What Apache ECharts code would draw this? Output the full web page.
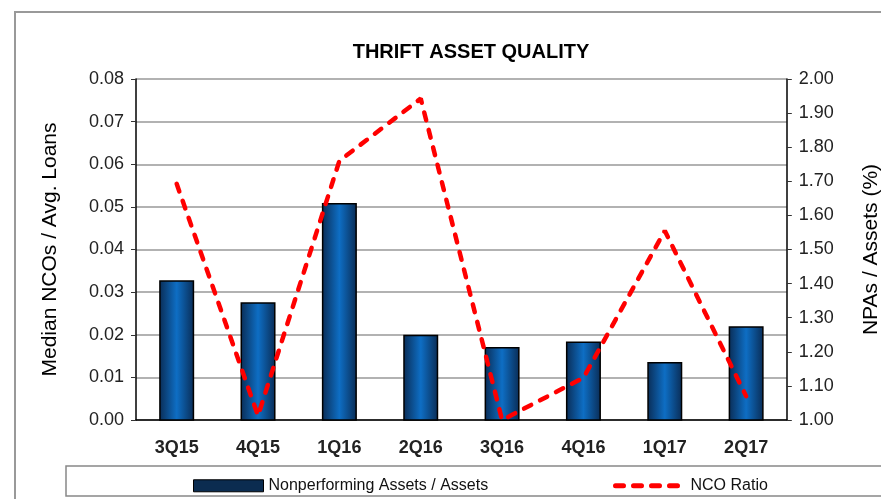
<script src="https://cdn.jsdelivr.net/npm/echarts@6/dist/echarts.min.js"></script>

<div id="chart" style="width: 889px; height: 499px;"></div>

<script>
  const quarters = ['3Q15', '4Q15', '1Q16', '2Q16', '3Q16', '4Q16', '1Q17', '2Q17'];
  // NPAs / Assets (%), right axis
  const npaValues = [1.41, 1.345, 1.636, 1.25, 1.214, 1.23, 1.17, 1.275];
  // median NCOs / avg. loans, left axis
  const ncoValues = [0.0554, 0.001, 0.0608, 0.0754, 0.0, 0.0099, 0.0444, 0.0056];

  const font = 'Liberation Sans, Arial, sans-serif';
  const chartDom = document.getElementById('chart');
  const myChart = echarts.init(chartDom, null, { renderer: 'canvas' });

  const barFill = new echarts.graphic.LinearGradient(0, 0, 1, 0, [
    { offset: 0, color: '#0a2c55' },
    { offset: 0.5, color: '#0e6ec4' },
    { offset: 1, color: '#0a2c55' }
  ]);
  const ncoDash = { color: '#ff0000', width: 4.5, type: [8, 10], cap: 'round' };

  const option = {
    backgroundColor: '#fff',
    animation: false,
    title: {
      text: 'THRIFT ASSET QUALITY',
      left: 458,
      top: 22,
      textAlign: 'center',
      textStyle: { fontFamily: font, fontSize: 20, fontWeight: 'bold', color: '#000' }
    },
    grid: { left: 128, right: 89, top: 71, bottom: 87 },
    legend: [
      {
        left: 185,
        top: 464,
        padding: 0,
        itemWidth: 70,
        itemHeight: 12,
        itemGap: 6,
        data: [{
          name: 'Nonperforming Assets / Assets',
          icon: 'rect',
          itemStyle: { color: '#0b2c50', borderColor: '#000', borderWidth: 1 }
        }],
        textStyle: { fontFamily: font, fontSize: 16, color: '#111' }
      },
      {
        left: 605,
        top: 464,
        padding: 0,
        itemWidth: 70,
        itemHeight: 12,
        data: [{ name: 'NCO Ratio', itemStyle: { opacity: 0 } }],
        lineStyle: { color: '#ff0000', width: 5, type: [8, 10], cap: 'round' },
        textStyle: { fontFamily: font, fontSize: 16, color: '#111' }
      }
    ],
    xAxis: {
      type: 'category',
      data: quarters,
      axisLine: { lineStyle: { color: '#000', width: 1.5 } },
      axisTick: { length: 5, lineStyle: { color: '#333' } },
      axisLabel: { fontFamily: font, fontSize: 18, fontWeight: 'bold', color: '#222', margin: 13 }
    },
    yAxis: [
      {
        type: 'value',
        min: 0,
        max: 0.08,
        interval: 0.01,
        name: 'Median NCOs / Avg. Loans',
        nameLocation: 'middle',
        nameGap: 68,
        nameTextStyle: { fontFamily: font, fontSize: 21, color: '#000' },
        axisLine: { show: true, lineStyle: { color: '#000', width: 1.5 } },
        axisTick: { show: true, length: 5, lineStyle: { color: '#333' } },
        axisLabel: { fontFamily: font, fontSize: 18, color: '#222', margin: 12, formatter: v => v.toFixed(2) },
        splitLine: { lineStyle: { color: '#999', width: 1.5 } }
      },
      {
        type: 'value',
        min: 1,
        max: 2,
        interval: 0.1,
        name: 'NPAs / Assets (%)',
        nameLocation: 'middle',
        nameGap: 66,
        nameRotate: 90,
        nameTextStyle: { fontFamily: font, fontSize: 21, color: '#000' },
        axisLine: { show: true, lineStyle: { color: '#000', width: 1.5 } },
        axisTick: { show: true, length: 5, lineStyle: { color: '#333' } },
        axisLabel: { fontFamily: font, fontSize: 18, color: '#222', margin: 12, formatter: v => v.toFixed(2) },
        splitLine: { show: false }
      }
    ],
    series: [
      {
        name: 'Nonperforming Assets / Assets',
        type: 'bar',
        yAxisIndex: 1,
        data: npaValues,
        barWidth: 35,
        itemStyle: { color: barFill, borderColor: '#000', borderWidth: 1.5 }
      },
      {
        name: 'NCO Ratio',
        type: 'line',
        yAxisIndex: 0,
        data: ncoValues,
        symbol: 'none',
        z: 5,
        itemStyle: { color: '#ff0000' },
        lineStyle: ncoDash
      }
    ],
    graphic: [
      {
        type: 'polyline',
        shape: { points: [[7, 499], [7, 4], [889, 4]] },
        style: { fill: null, stroke: '#999', lineWidth: 2 },
        silent: true
      },
      {
        type: 'rect',
        shape: { x: 58, y: 458, width: 817, height: 30 },
        style: { fill: null, stroke: '#888', lineWidth: 1.5 },
        z: -1,
        silent: true
      }
    ]
  };
  myChart.setOption(option);
</script>
